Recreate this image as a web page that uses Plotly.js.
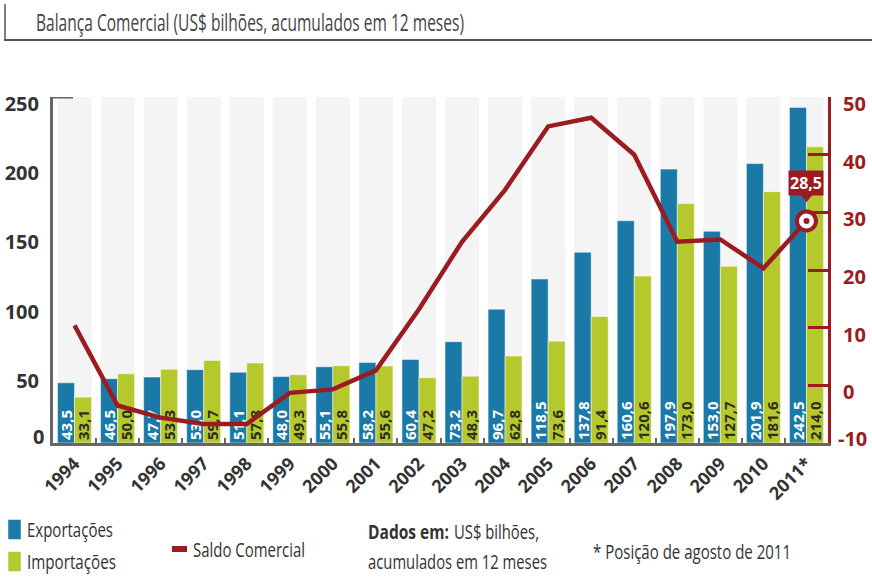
<!DOCTYPE html>
<html>
<head>
<meta charset="utf-8">
<script src="https://cdn.plot.ly/plotly-3.0.1.min.js"></script>
<style>html,body{margin:0;padding:0;background:#fff;}</style>
</head>
<body>
<div id="chart" style="width:872px;height:577px;"></div>
<script>
const categories = ['1994','1995','1996','1997','1998','1999','2000','2001','2002','2003','2004','2005','2006','2007','2008','2009','2010','2011*'];
const exportacoes = [43.5,46.5,47.7,53.0,51.1,48.0,55.1,58.2,60.4,73.2,96.7,118.5,137.8,160.6,197.9,153.0,201.9,242.5];
const importacoes = [33.1,50.0,53.3,59.7,57.8,49.3,55.8,55.6,47.2,48.3,62.8,73.6,91.4,120.6,173.0,127.7,181.6,214.0];
const saldo = [10.4,-3.5,-5.6,-6.7,-6.7,-1.3,-0.7,2.6,13.2,24.9,33.9,44.9,46.4,40.0,24.9,25.3,20.3,28.5];
const leftTicks = [0,50,100,150,200,250];
const rightTicks = [-10,0,10,20,30,40,50];

const BLUE = '#1a79a7', GREEN = '#b6c92c', RED = '#9b1c20', GRAYAX = '#666666';
const COND = "'Open Sans', sans-serif";
const BOLD = "'Open Sans', 'DejaVu Sans', sans-serif";
const leftMax = leftTicks[leftTicks.length - 1];

const band = {
  type: 'bar', x: categories, y: categories.map(() => leftMax),
  width: 0.79, offset: -0.395, marker: {color: '#f4f4f4'},
  hoverinfo: 'skip', showlegend: false
};
const exp = {
  type: 'bar', name: 'Exportações', x: categories, y: exportacoes,
  width: 0.395, offset: -0.395,
  marker: {color: BLUE, line: {color: '#ffffff', width: 0.5}},
  texttemplate: '%{y:.1f}', textposition: 'inside', insidetextanchor: 'start',
  textangle: -90, constraintext: 'none',
  textfont: {family: BOLD, size: 15, color: '#ffffff', weight: 700},
  legendgroup: 'a'
};
const imp = {
  type: 'bar', name: 'Importações', x: categories, y: importacoes,
  width: 0.395, offset: 0,
  marker: {color: GREEN, line: {color: '#ffffff', width: 0.5}},
  texttemplate: '%{y:.1f}', textposition: 'inside', insidetextanchor: 'start',
  textangle: -90, constraintext: 'none',
  textfont: {family: BOLD, size: 15, color: '#2e2e1e', weight: 700},
  legendgroup: 'b'
};
const line = {
  type: 'scatter', mode: 'lines', name: 'Saldo Comercial', x: categories, y: saldo,
  yaxis: 'y2', line: {color: RED, width: 4.5}, showlegend: false
};
const lastX = [categories[categories.length - 1]];
const lastY = [saldo[saldo.length - 1]];
const ring = {
  type: 'scatter', mode: 'markers', x: lastX, y: lastY, yaxis: 'y2',
  marker: {size: 19, color: '#ffffff', line: {color: RED, width: 4}},
  showlegend: false, hoverinfo: 'skip'
};
const dot = {
  type: 'scatter', mode: 'markers', x: lastX, y: lastY, yaxis: 'y2',
  marker: {size: 6, color: RED}, showlegend: false, hoverinfo: 'skip'
};

const W = 872, H = 577, ML = 53, MR = 44, MT = 97, MB = 134;
const PW = W - ML - MR, PH = H - MT - MB;
const px = v => (v - ML) / PW;
const py = v => (H - MB - v) / PH;

const layout = {
  width: W, height: H, autosize: false,
  margin: {l: ML, r: MR, t: MT, b: MB, pad: 0, autoexpand: false},
  paper_bgcolor: '#ffffff', plot_bgcolor: '#ffffff',
  separators: ',.',
  barmode: 'overlay',
  showlegend: true,
  xaxis: {
    type: 'category', range: [-0.5, categories.length - 0.5],
    tickangle: -45, tickfont: {family: BOLD, size: 18, color: '#333333', weight: 700},
    showline: true, linecolor: GRAYAX, linewidth: 3,
    ticks: 'inside', tickson: 'boundaries', ticklen: 5, tickwidth: 2, tickcolor: GRAYAX,
    showgrid: false, zeroline: false, fixedrange: true, automargin: false
  },
  yaxis: {
    range: [0, leftMax], tickvals: leftTicks.slice(1), ticktext: leftTicks.slice(1).map(String),
    tickfont: {family: BOLD, size: 20, color: '#333333', weight: 700},
    showline: true, linecolor: GRAYAX, linewidth: 3, ticks: '',
    ticklabelshift: 7, ticklabelstandoff: 7,
    showgrid: false, zeroline: false, fixedrange: true, automargin: false
  },
  yaxis2: {
    overlaying: 'y', side: 'right', range: [rightTicks[0], rightTicks[rightTicks.length - 1]],
    tickvals: rightTicks, ticktext: rightTicks.map((v, i) => i === 0 ? ' ' : String(v)),
    tickfont: {family: BOLD, size: 20, color: RED, weight: 700},
    showline: true, linecolor: RED, linewidth: 3,
    ticks: 'inside', ticklen: 20, tickwidth: 3, tickcolor: RED,
    ticklabelshift: 7, ticklabelstandoff: 8,
    showgrid: false, zeroline: false, fixedrange: true, automargin: false
  },
  legend: {
    x: px(-13), y: py(510), xanchor: 'left', yanchor: 'top', orientation: 'v',
    font: {family: COND, size: 20, color: '#333333'}, bgcolor: 'rgba(0,0,0,0)',
    tracegroupgap: 3, itemwidth: 30
  },
  shapes: [
    {type: 'line', xref: 'paper', yref: 'paper', x0: px(4), x1: px(872), y0: py(40), y1: py(40),
     line: {color: '#555555', width: 2}},
    {type: 'line', xref: 'paper', yref: 'paper', x0: px(5), x1: px(5), y0: py(4), y1: py(40),
     line: {color: '#555555', width: 1.5}},
    {type: 'line', xref: 'paper', yref: 'y', x0: 0, x1: 20 / PW, y0: leftMax, y1: leftMax,
     line: {color: GRAYAX, width: 3}},
    {type: 'path', xref: 'x', yref: 'y2', xsizemode: 'pixel', ysizemode: 'pixel',
     xanchor: categories.length - 1, yanchor: lastY[0],
     path: 'M-7,27L7,27L0,19Z', fillcolor: RED, line: {width: 0}, layer: 'above'},
    // legend swatch for the Saldo Comercial line
    {type: 'line', xref: 'paper', yref: 'paper', x0: px(172), x1: px(187), y0: py(549), y1: py(549),
     line: {color: RED, width: 6}}
  ],
  annotations: [
    {xref: 'paper', yref: 'paper', x: px(34), y: py(21), xanchor: 'left', yanchor: 'middle',
     text: 'Balança Comercial (US$ bilhões, acumulados em 12 meses)', showarrow: false,
     font: {family: COND, size: 24, color: '#444444'}, name: 'cond-428'},
    {x: lastX[0], y: lastY[0], xref: 'x', yref: 'y2', yshift: 38,
     text: '<b>' + lastY[0].toFixed(1).replace('.', ',') + '</b>',
     font: {family: BOLD, size: 16, color: '#ffffff'}, bgcolor: RED, borderpad: 1,
     showarrow: false},
    {xref: 'paper', yref: 'y', x: 0, y: leftTicks[0], xanchor: 'right', yanchor: 'middle',
     xshift: -7, yshift: 7, text: String(leftTicks[0]), showarrow: false,
     font: {family: BOLD, size: 20, color: '#333333', weight: 700}},
    {xref: 'paper', yref: 'y2', x: 1, y: rightTicks[0], xanchor: 'left', yanchor: 'middle',
     xshift: 8, yshift: 5, text: String(rightTicks[0]), showarrow: false,
     font: {family: BOLD, size: 20, color: RED, weight: 700}},
    {xref: 'paper', yref: 'paper', x: px(191), y: py(549), xanchor: 'left', yanchor: 'middle',
     text: line.name, showarrow: false,
     font: {family: COND, size: 20, color: '#333333'}, name: 'cond-112'},
    {xref: 'paper', yref: 'paper', x: px(366), y: py(531), xanchor: 'left', yanchor: 'middle',
     text: '<b>Dados em:</b>', showarrow: false,
     font: {family: COND, size: 20, color: '#333333'}, name: 'cond-81'},
    {xref: 'paper', yref: 'paper', x: px(452), y: py(531), xanchor: 'left', yanchor: 'middle',
     text: 'US$ bilhões,', showarrow: false,
     font: {family: COND, size: 20, color: '#333333'}, name: 'cond-85'},
    {xref: 'paper', yref: 'paper', x: px(366), y: py(561), xanchor: 'left', yanchor: 'middle',
     text: 'acumulados em 12 meses', showarrow: false,
     font: {family: COND, size: 20, color: '#333333'}, name: 'cond-179'},
    {xref: 'paper', yref: 'paper', x: px(591), y: py(551), xanchor: 'left', yanchor: 'middle',
     text: '* Posição de agosto de 2011', showarrow: false,
     font: {family: COND, size: 20, color: '#333333'}, name: 'cond-198'}
  ]
};

// target text widths (px) in the reference, used to condense the text horizontally
const legendTargets = {'Exportações': 86, 'Importações': 89};
const norm = s => s.replace(/\s+/g, ' ').trim();

function condenseAll(gd) {
  const annTargets = {};
  layout.annotations.forEach(a => {
    if (a.name && a.name.indexOf('cond-') === 0) annTargets[norm(a.text.replace(/<[^>]+>/g, ''))] = +a.name.slice(5);
  });
  document.querySelectorAll('text').forEach(t => {
    const cls = t.getAttribute('class') || '';
    if (cls.indexOf('legendtext') < 0) return;
    const target = legendTargets[norm(t.textContent)];
    if (!target || t.getAttribute('textLength')) return;
    t.setAttribute('textLength', target);
    t.setAttribute('lengthAdjust', 'spacingAndGlyphs');
  });
  document.querySelectorAll('text.annotation-text').forEach(t => {
    const target = annTargets[norm(t.textContent)];
    if (!target || t.getAttribute('textLength')) return;
    const bb = t.getBBox();
    t.setAttribute('text-anchor', 'start');
    t.setAttribute('x', bb.x);
    t.querySelectorAll('tspan[x]').forEach(s => s.setAttribute('x', bb.x));
    t.setAttribute('textLength', target);
    t.setAttribute('lengthAdjust', 'spacingAndGlyphs');
    const g = t.closest('.annotation-text-g') || t.parentNode;
    const bg = g && g.parentNode ? g.parentNode.querySelector('rect.bg') : null;
    if (bg) bg.setAttribute('width', Math.max(0, 2 * bb.x + target));
  });
  // legend swatches: taller squares, as in the reference
  document.querySelectorAll('.legendpoints path').forEach(p => {
    const d = (p.getAttribute('d') || '').replace(/\s+/g, '');
    if (d === 'M6,6H-6V-6H6Z') p.setAttribute('d', 'M14,10H1V-10H14Z');
  });
}

Plotly.newPlot('chart', [band, exp, imp, line, ring, dot], layout, {displayModeBar: false, staticPlot: true}).then(gd => {
  condenseAll(gd);
  gd.on && gd.on('plotly_afterplot', () => condenseAll(gd));
  [0, 30, 100, 250, 500].forEach(ms => setTimeout(() => condenseAll(gd), ms));
});
</script>
</body>
</html>
